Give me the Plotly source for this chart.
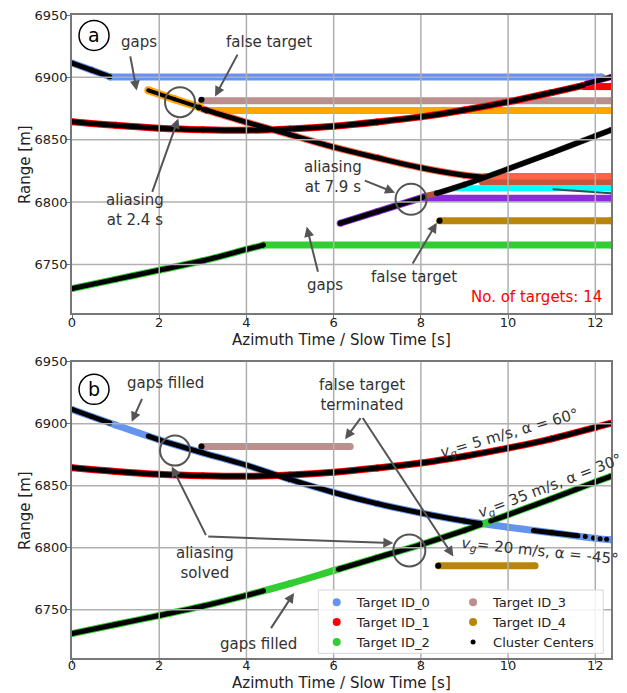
import plotly.graph_objects as go

FONT = "DejaVu Sans"
TXT = "#333333"
ARW = "#555555"

# ---------------- colours ----------------
C_ID0 = "#6495ED"
C_ID1 = "#FF0000"
C_ID2 = "#32CD32"
C_ID3 = "#BC8F8F"
C_ID4 = "#B8860B"
C_ORANGE = "#FFA500"
C_TOMATO = "#FF6347"
C_FIRE = "#C8553D"
C_CYAN = "#00FFFF"
C_PURPLE = "#8A2BE2"
C_SIENNA = "#B0503A"
C_SLATE = "#2F4F4F"
C_MAGENTA = "#FF00FF"
C_RISE = "#505050"

# ---------------- ticks ----------------
x_ticks = [0, 2, 4, 6, 8, 10, 12]
y_ticks = [6750, 6800, 6850, 6900, 6950]
x_range = [0, 12.36]
y_range = [6711, 6950]

# ---------------- panel (a): raw tracking ----------------
a_id0_t = [0.0, 0.45, 0.87]
a_id0_r = [6911.5, 6905.8, 6900.5]
a_id0_hold_t = [0.87, 12.15]
a_id0_hold_r = [6900.2, 6900.2]
a_orange_t = [1.75, 2.35, 2.94]
a_orange_r = [6889.6, 6882.5, 6875.8]
a_orange_hold_t = [3.09, 12.36]
a_orange_hold_r = [6873.4, 6873.4]
a_brown_hold_t = [2.97, 12.36]
a_brown_hold_r = [6881.2, 6881.2]
a_tomato_t = [3.01, 4.0, 5.0, 6.0, 7.0, 8.0, 9.0, 9.47]
a_tomato_r = [6874.5, 6864.0, 6854.0, 6844.0, 6835.5, 6827.5, 6821.5, 6819.8]
a_tomato_hold_t = [9.47, 12.36]
a_tomato_hold_r = [6820.4, 6820.4]
a_fire_hold_t = [9.4, 12.36]
a_fire_hold_r = [6815.6, 6815.6]
a_cyan_hold_t = [8.75, 12.36]
a_cyan_hold_r = [6811.0, 6811.0]
a_slate_t = [11.04, 12.36]
a_slate_r = [6810.2, 6807.0]
a_purple_t = [6.15, 7.0, 8.06]
a_purple_r = [6783.0, 6792.3, 6804.0]
a_purple_hold_t = [8.06, 12.36]
a_purple_hold_r = [6803.0, 6803.0]
a_sienna_t = [8.06, 8.36]
a_sienna_r = [6804.5, 6807.0]
a_rise_t = [8.36, 9.0, 10.0, 11.0, 12.0, 12.36]
a_rise_r = [6807.0, 6814.0, 6826.5, 6839.5, 6853.0, 6857.8]
a_gold_hold_t = [8.43, 12.36]
a_gold_hold_r = [6785.0, 6785.0]
a_id2_t = [0.0, 1.0, 2.0, 3.0, 4.0, 4.39]
a_id2_r = [6730.7, 6738.0, 6745.4, 6752.9, 6762.0, 6765.5]
a_id2_hold_t = [4.39, 12.36]
a_id2_hold_r = [6765.5, 6765.5]
a_id1_t = [0.0, 1.0, 2.0, 3.0, 4.0, 5.0, 6.0, 7.0, 8.0, 9.0, 10.0, 11.0, 11.73]
a_id1_r = [6864.4, 6861.5, 6859.2, 6858.0, 6857.6, 6858.6, 6860.8, 6864.2, 6868.3,
           6873.8, 6880.3, 6887.8, 6893.6]
a_id1_hold_t = [11.73, 12.36]
a_id1_hold_r = [6892.6, 6892.6]
a_id1_tail_t = [11.8, 12.36]
a_id1_tail_r = [6895.0, 6900.2]
a_centers_t = [2.91, 2.97, 3.09, 8.43]
a_centers_r = [6875.8, 6882.0, 6873.4, 6785.0]

# ---------------- panel (b): improved tracking ----------------
b_id0_t = [0.0, 1.0, 2.0, 3.0, 4.0, 5.0, 6.0, 7.0, 8.0, 9.0, 10.0, 11.0, 12.0, 12.36]
b_id0_r = [6911.5, 6899.0, 6887.0, 6876.5, 6866.5, 6855.0, 6844.5, 6835.5, 6828.0,
           6821.5, 6816.5, 6812.0, 6807.5, 6806.4]
b_id0_c1_t = [0.0, 0.45, 0.87]
b_id0_c1_r = [6911.5, 6905.8, 6900.5]
b_id0_c2_t = [1.75, 2.0, 3.0, 4.0, 5.0, 6.0, 7.0, 8.0, 9.0, 9.36]
b_id0_c2_r = [6890.0, 6887.0, 6876.5, 6866.5, 6855.0, 6844.5, 6835.5, 6828.0, 6821.5, 6819.6]
b_id0_c3_t = [10.58, 11.0, 11.6]
b_id0_c3_r = [6813.8, 6812.0, 6809.6]
b_id0_dots_t = [11.77, 11.96, 12.11, 12.26]
b_id0_dots_r = [6809.0, 6807.8, 6807.2, 6806.7]

b_id1_t = [0.0, 1.0, 2.0, 3.0, 4.0, 5.0, 6.0, 7.0, 8.0, 9.0, 10.0, 11.0, 12.0, 12.36]
b_id1_r = [6864.4, 6861.5, 6859.2, 6858.0, 6857.6, 6858.6, 6860.8, 6864.2, 6868.3,
           6873.8, 6880.3, 6887.8, 6897.0, 6900.4]

b_id2_t = [0.0, 1.0, 2.0, 3.0, 4.0, 5.0, 6.0, 7.0, 8.0, 9.0, 10.0, 11.0, 12.0, 12.36]
b_id2_r = [6730.7, 6738.0, 6745.3, 6752.8, 6761.5, 6771.0, 6781.5, 6792.0, 6802.5,
           6814.0, 6826.5, 6839.5, 6853.0, 6857.6]
b_id2_c1_t = [0.0, 1.0, 2.0, 3.0, 4.0, 4.39]
b_id2_c1_r = [6730.7, 6738.0, 6745.3, 6752.8, 6761.5, 6765.2]
b_id2_c2_t = [6.11, 7.0, 8.0, 9.0, 9.36]
b_id2_c2_r = [6782.6, 6792.0, 6802.5, 6814.0, 6818.5]
b_id2_c3_t = [9.6, 10.0, 11.0, 12.0, 12.36]
b_id2_c3_r = [6821.5, 6826.5, 6839.5, 6853.0, 6857.6]

b_id3_t = [2.97, 6.38]
b_id3_r = [6881.6, 6881.6]
b_id4_t = [8.4, 10.62]
b_id4_r = [6785.5, 6785.5]
b_centers_t = [2.97, 8.4]
b_centers_r = [6881.6, 6785.5]

# legend: two columns
legend_names = ["Target ID_0", "Target ID_1", "Target ID_2",
                "Target ID_3", "Target ID_4", "Cluster Centers"]
legend_colors = [C_ID0, C_ID1, C_ID2, C_ID3, C_ID4, "#000000"]
legend_sizes = [8, 8, 8, 8, 8, 5]
legend_groups = ["legend", "legend", "legend", "legend2", "legend2", "legend2"]

fig = go.Figure()


def seg(t, r, color, width, xa, ya):
    fig.add_trace(go.Scatter(
        x=t, y=r, mode="lines+markers",
        line=dict(color=color, width=width,
                  shape="spline" if len(t) > 2 else "linear"),
        marker=dict(color=color, size=width),
        xaxis=xa, yaxis=ya, showlegend=False, hoverinfo="skip"))


def dots(t, r, size, xa, ya):
    fig.add_trace(go.Scatter(
        x=t, y=r, mode="markers", marker=dict(color="black", size=size),
        xaxis=xa, yaxis=ya, showlegend=False, hoverinfo="skip"))


# ---- panel (a) ----
A = ("x", "y")
seg(a_id0_hold_t, a_id0_hold_r, C_ID0, 7, *A)
seg(a_id1_hold_t, a_id1_hold_r, C_ID1, 7, *A)
seg(a_brown_hold_t, a_brown_hold_r, C_ID3, 7, *A)
seg(a_orange_hold_t, a_orange_hold_r, C_ORANGE, 7, *A)
seg(a_tomato_hold_t, a_tomato_hold_r, C_TOMATO, 7, *A)
seg(a_fire_hold_t, a_fire_hold_r, C_FIRE, 6, *A)
seg(a_cyan_hold_t, a_cyan_hold_r, C_CYAN, 6, *A)
seg(a_slate_t, a_slate_r, C_SLATE, 2, *A)
seg(a_purple_hold_t, a_purple_hold_r, C_PURPLE, 7, *A)
seg(a_gold_hold_t, a_gold_hold_r, C_ID4, 7, *A)
seg(a_id2_hold_t, a_id2_hold_r, C_ID2, 7, *A)
seg(a_sienna_t, a_sienna_r, C_SIENNA, 6, *A)

seg(a_id0_t, a_id0_r, C_ID0, 7, *A)
seg(a_id1_t, a_id1_r, C_ID1, 7, *A)
seg(a_id1_tail_t, a_id1_tail_r, C_MAGENTA, 6, *A)
seg(a_orange_t, a_orange_r, C_ORANGE, 8, *A)
seg(a_tomato_t, a_tomato_r, C_TOMATO, 7, *A)
seg(a_purple_t, a_purple_r, C_PURPLE, 7, *A)
seg(a_rise_t, a_rise_r, C_RISE, 6, *A)
seg(a_id2_t, a_id2_r, C_ID2, 7, *A)

for t, r in [(a_id0_t, a_id0_r), (a_id1_t, a_id1_r), (a_id1_tail_t, a_id1_tail_r),
             (a_tomato_t, a_tomato_r), (a_purple_t, a_purple_r),
             (a_rise_t, a_rise_r), (a_id2_t, a_id2_r)]:
    seg(t, r, "black", 5, *A)
seg(a_orange_t, a_orange_r, "black", 4, *A)
dots(a_centers_t, a_centers_r, 6, *A)

# ---- panel (b) ----
B = ("x2", "y2")
seg(b_id3_t, b_id3_r, C_ID3, 7, *B)
seg(b_id4_t, b_id4_r, C_ID4, 7, *B)
seg(b_id0_t, b_id0_r, C_ID0, 7, *B)
seg(b_id1_t, b_id1_r, C_ID1, 7, *B)
seg(b_id2_t, b_id2_r, C_ID2, 7, *B)
for t, r in [(b_id0_c1_t, b_id0_c1_r), (b_id0_c2_t, b_id0_c2_r), (b_id0_c3_t, b_id0_c3_r),
             (b_id1_t, b_id1_r), (b_id2_c1_t, b_id2_c1_r), (b_id2_c2_t, b_id2_c2_r),
             (b_id2_c3_t, b_id2_c3_r)]:
    seg(t, r, "black", 5, *B)
dots(b_id0_dots_t, b_id0_dots_r, 5, *B)
dots(b_centers_t, b_centers_r, 6, *B)

# legend entries
for name, col, size, lg in zip(legend_names, legend_colors, legend_sizes, legend_groups):
    fig.add_trace(go.Scatter(x=[None], y=[None], mode="markers", name=name, legend=lg,
                             marker=dict(color=col, size=size), xaxis="x2", yaxis="y2"))

# ---------------- grid lines (drawn above data) & circles ----------------
shapes = []
for xa, ya in [("x", "y"), ("x2", "y2")]:
    for v in x_ticks[1:]:
        shapes.append(dict(type="line", xref=xa, yref=ya + " domain", x0=v, x1=v, y0=0, y1=1,
                           line=dict(color="#b0b0b0", width=1.5), layer="above"))
    for v in y_ticks[:-1]:
        shapes.append(dict(type="line", xref=xa + " domain", yref=ya, x0=0, x1=1, y0=v, y1=v,
                           line=dict(color="#b0b0b0", width=1.5), layer="above"))


def circle(xa, ya, cx, cy, rad, color, width):
    shapes.append(dict(type="circle", xref=xa, yref=ya, xsizemode="pixel", ysizemode="pixel",
                       xanchor=cx, yanchor=cy, x0=-rad, x1=rad, y0=-rad, y1=rad,
                       line=dict(color=color, width=width), layer="above"))


circle("x", "y", 0.505, 6933.6, 15, "black", 1.5)
circle("x", "y", 2.477, 6880.1, 15, ARW, 2)
circle("x", "y", 7.775, 6802.2, 15.5, ARW, 2)
circle("x2", "y2", 0.505, 6927.7, 15, "black", 1.5)
circle("x2", "y2", 2.362, 6878.3, 15, ARW, 2)
circle("x2", "y2", 7.736, 6797.8, 16, ARW, 2)

# legend frame
shapes.append(dict(type="rect", xref="paper", yref="paper", x0=0.457, x1=0.9857,
                   y0=0.0073, y1=0.1058, fillcolor="rgba(255,255,255,0.85)",
                   line=dict(color="#d6d6d6", width=1), layer="above"))

# ---------------- annotations ----------------
ann = []


def text(xa, ya, x, y, s, size=15, color=TXT, angle=0, pad=1):
    ann.append(dict(xref=xa, yref=ya, x=x, y=y, text=s, showarrow=False, textangle=angle,
                    font=dict(family=FONT, size=size, color=color), borderpad=pad,
                    xanchor="center", yanchor="middle"))


def arrow(xa, ya, x, y, ax, ay):
    ann.append(dict(xref=xa, yref=ya, x=x, y=y, ax=ax, ay=ay, text="", showarrow=True,
                    arrowhead=2, arrowsize=1, arrowwidth=2, arrowcolor=ARW))


# axis titles
text("paper", "paper", 0.5, 0.4946, "Azimuth Time / Slow Time [s]", color="#222", pad=0)
text("paper", "paper", 0.5, -0.0389, "Azimuth Time / Slow Time [s]", color="#222", pad=0)
text("paper", "paper", -0.0872, 0.7683, "Range [m]", color="#222", angle=-90)
text("paper", "paper", -0.0872, 0.2302, "Range [m]", color="#222", angle=-90)

# panel a
text("x", "y", 0.505, 6933.6, "a", size=19, color="black")
text("x", "y", 1.544, 6928.0, "gaps")
arrow("x", "y", 1.484, 6889.4, -6.7, -35.7)
text("x", "y", 4.518, 6928.0, "false target")
arrow("x", "y", 3.28, 6884.6, 23.3, -43.4)
text("x", "y", 1.445, 6793.6, "aliasing<br>at 2.4 s")
arrow("x", "y", 2.438, 6867.1, -26.6, 75)
text("x", "y", 5.993, 6820.4, "aliasing<br>at 7.9 s")
arrow("x", "y", 7.408, 6807.5, -31.7, -12.7)
text("x", "y", 5.803, 6733.4, "gaps")
arrow("x", "y", 5.383, 6780.2, 11.6, 46.6)
text("x", "y", 7.844, 6740.0, "false target")
arrow("x", "y", 8.365, 6783.4, -25, 42.3)
text("x", "y", 10.658, 6724.0, "No. of targets: 14", color="#FF0000")

# panel b
text("x2", "y2", 0.505, 6927.7, "b", size=19, color="black")
text("x2", "y2", 2.149, 6933.0, "gaps filled")
arrow("x2", "y2", 1.369, 6901.5, 11, -24.4)
text("x2", "y2", 6.644, 6923.2, "false target<br>terminated")
arrow("x2", "y2", 6.261, 6887.5, 16.7, -22.6)
arrow("x2", "y2", 8.745, 6792.9, -91.6, -140)
text("x2", "y2", 3.05, 6787.6, "aliasing<br>solved")
arrow("x2", "y2", 2.287, 6865.4, 35, 70)
arrow("x2", "y2", 7.369, 6803.7, -186.6, -6.6)
text("x2", "y2", 4.273, 6722.6, "gaps filled")
arrow("x2", "y2", 5.092, 6763.5, -24, 36.7)
text("x2", "y2", 10.03, 6892.3, "<i>v</i><sub><i>g</i></sub>= 5 m/s, α = 60°", angle=-16)
text("x2", "y2", 10.95, 6849.3, "<i>v</i><sub><i>g</i></sub>= 35 m/s, α = 30°", angle=-21)
text("x2", "y2", 10.73, 6797.0, "<i>v</i><sub><i>g</i></sub>= 20 m/s, α = -45°", angle=6)

axis_common = dict(showgrid=False, zeroline=False, showline=True, mirror=True,
                   linecolor="#777777", linewidth=1.5, ticks="outside", ticklen=4,
                   tickcolor="#777777", automargin=False,
                   tickfont=dict(family=FONT, size=13, color="#222"))

xa_common = dict(axis_common, range=x_range, tickvals=x_ticks)
ya_common = dict(axis_common, range=y_range, tickvals=y_ticks, ticklabelstandoff=-4)

leg_common = dict(orientation="v", xanchor="left", yanchor="top",
                  bgcolor="rgba(0,0,0,0)", borderwidth=0,
                  font=dict(family=FONT, size=13, color="#222"))

fig.update_layout(
    width=627, height=693,
    margin=dict(l=72, r=16, t=15, b=35, autoexpand=False),
    paper_bgcolor="white", plot_bgcolor="white",
    font=dict(family=FONT, size=13, color="#222"),
    showlegend=True,
    legend=dict(leg_common, x=0.454, y=0.110),
    legend2=dict(leg_common, x=0.707, y=0.110),
    xaxis=dict(xa_common, domain=[0, 1], anchor="y", ticklabelstandoff=-7),
    yaxis=dict(ya_common, domain=[0.5365, 1], anchor="x"),
    xaxis2=dict(xa_common, domain=[0, 1], anchor="y2", ticklabelstandoff=-9),
    yaxis2=dict(ya_common, domain=[0, 0.4608], anchor="x2"),
    shapes=shapes,
    annotations=ann,
)

fig.write_html("out.html", config={"displayModeBar": False},
               post_script="document.body.style.margin='0px';")
